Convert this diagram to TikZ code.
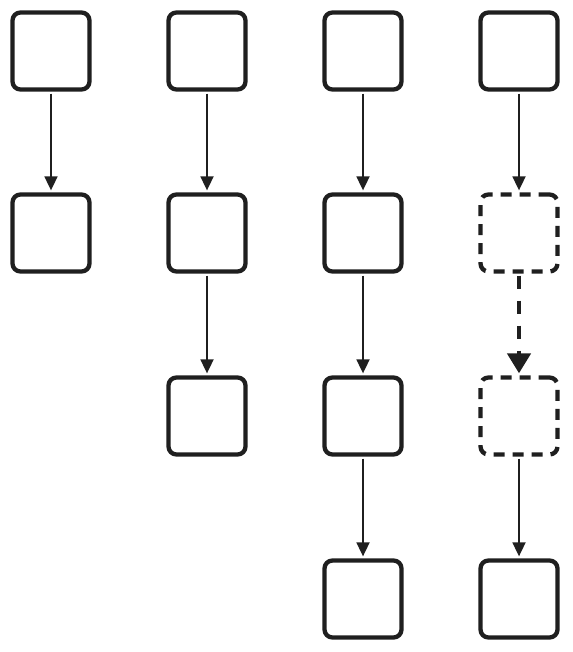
\documentclass[tikz,border=0pt]{standalone}
\usetikzlibrary{arrows.meta}
\begin{document}
\begin{tikzpicture}[x=1pt,y=-1pt,
  box/.style={draw=black!88,line width=4.3pt,rounded corners=8pt,minimum size=77pt,inner sep=0pt,fill=white},
  dbox/.style={box,dash pattern=on 11pt off 8pt},
  link/.style={draw=black!88,line width=1.8pt,-{Triangle[length=14pt,width=13pt]},shorten >=2pt,shorten <=2pt},
  dlink/.style={draw=black!88,line width=4.5pt,dash pattern=on 13pt off 12pt,-{Triangle[length=20pt,width=23pt]},shorten >=2pt,shorten <=2pt}]
\useasboundingbox (0,0) rectangle (572,652);
% column 1
\node[box] (a1) at (51,51) {};
\node[box] (a2) at (51,233) {};
% column 2
\node[box] (b1) at (207,51) {};
\node[box] (b2) at (207,233) {};
\node[box] (b3) at (207,416) {};
% column 3
\node[box] (c1) at (363,51) {};
\node[box] (c2) at (363,233) {};
\node[box] (c3) at (363,416) {};
\node[box] (c4) at (363,599) {};
% column 4
\node[box] (d1) at (519,51) {};
\node[dbox] (d2) at (519,233) {};
\node[dbox] (d3) at (519,416) {};
\node[box] (d4) at (519,599) {};
% arrows
\draw[link] (a1) -- (a2);
\draw[link] (b1) -- (b2);
\draw[link] (b2) -- (b3);
\draw[link] (c1) -- (c2);
\draw[link] (c2) -- (c3);
\draw[link] (c3) -- (c4);
\draw[link] (d1) -- (d2);
\draw[dlink] (d2) -- (d3);
\draw[link] (d3) -- (d4);
\end{tikzpicture}
\end{document}
